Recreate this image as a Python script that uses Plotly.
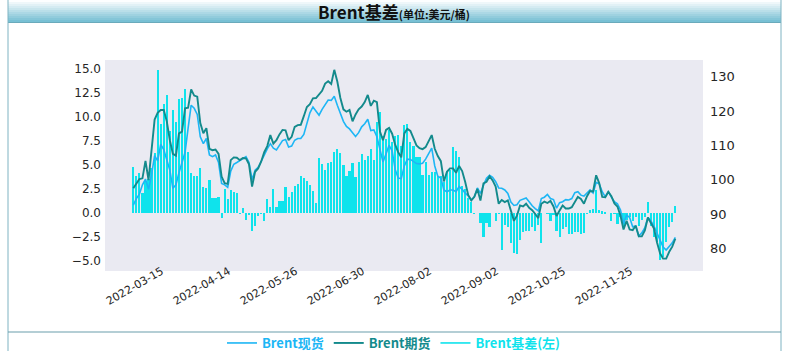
import plotly.graph_objects as go

# ---------------- data ----------------
tick_labels = ["2022-03-15", "2022-04-14", "2022-05-26", "2022-06-30",
               "2022-08-02", "2022-09-02", "2022-10-25", "2022-11-25"]

basis = [4.8, 3.9, 4.2, 2.1, 3.2, 3.5, 4.7, 6.3, 14.9, 9.3, 11.4, 12.3, 8.5, 10.7, 9.5, 11.9, 12.0, 12.9, 6.4, 4.2,
         3.9, 3.9, 4.7, 2.7, 2.6, 3.4, 1.6, 1.6, 1.7,
         -0.5, 2.5, 1.5, 2.4, 2.2, 2.1, -0.1, 0.5, -0.7, -0.2, -1.9, -1.4, -0.3, -0.1, -0.8, 1.5, 0.6, 2.5, 0.6, 1.3,
         1.3, 2.7, 1.7, 2.2, 2.8, 3.0, 3.9, 3.6, 3.3, 2.9,
         2.3, 1.0, 5.7, 5.1, 4.5, 5.2, 5.3, 6.4, 6.7, 6.3, 5.0, 3.9, 4.4, 5.2, 3.8, 5.3, 6.2, 5.5, 5.9, 6.7, 5.5, 9.5,
         10.5, 8.0, 7.7, 8.7, 7.4, 8.0, 8.1,
         7.0, 9.2, 9.3, 7.4, 7.0, 5.8, 5.8, 4.0, 5.3, 4.0, 4.3, 4.3, 3.9, 3.9, 3.2, 4.4, 4.5, 6.9, 6.5, 5.8, 2.8, 2.5,
         1.6, 1.1, -0.1, 0.0, -1.0, -2.5, -1.0, -1.5,
         0.0, -0.8, -0.1, -3.8, -1.2, -1.5, -3.1, -4.2, -4.3, -2.8, -2.0, -1.9, -1.9, -1.5, -1.9, -1.2, -3.1, 0.0, -0.1,
         -0.8, -0.2, -1.9, -2.5, -1.7, -1.5, -2.2, -2.2, -2.0, -2.0, -2.2,
         -2.1, -0.1, 0.3, 0.4, 2.4, 0.3, 0.2, 0.1, 0.0, -0.8, -0.1, -1.1, -0.4, -1.5, -0.7, -0.4, -0.8, -0.4, -1.3,
         -0.7, -0.4, 1.2, -1.4, -2.5, -3.0, -4.9, -4.6, -3.0, -1.5, -0.9, 0.7]

futures = [97.5, 98.8, 100.2, 100.4, 105.5, 99.9, 108.0, 117.5, 119.5, 120.3, 120.3, 117.0, 111.5, 107.5, 107.0,
           113.5, 114.0, 120.8, 121.0, 126.3, 124.5, 124.2, 116.5, 113.5, 115.0, 109.0, 108.6, 108.8, 107.5,
           100.9, 99.0, 98.8, 105.7, 106.5, 106.4, 105.7, 106.3, 106.2, 104.5, 98.0, 102.3, 103.3, 105.3, 108.0,
           109.8, 113.0, 110.5, 111.5, 113.2, 114.5, 114.4, 111.5, 112.5, 115.4, 115.9, 116.0, 118.5, 121.2, 122.0,
           123.7, 123.8, 124.7, 125.9, 128.0, 128.7, 127.9, 132.0, 128.6, 123.8, 120.5, 119.8, 120.3, 117.0, 119.0,
           120.5, 121.3, 122.6, 124.7, 121.5, 123.0, 122.6, 114.0, 111.5, 114.5, 115.1, 113.4, 110.2, 108.0,
           106.5, 113.5, 114.8, 114.2, 111.8, 110.0, 109.2, 108.9, 109.5, 111.1, 113.0, 109.0, 106.9, 105.4, 99.5,
           102.3, 103.3, 103.3, 102.0, 104.0, 102.5, 99.3, 95.5, 94.0, 95.0, 97.3, 93.9, 98.9, 99.4, 101.0,
           99.8, 98.0, 93.0, 94.1, 93.5, 94.0, 90.6, 88.0, 89.5, 92.5, 92.2, 93.0, 91.8, 91.1, 90.0, 88.8, 93.0,
           93.6, 93.2, 93.8, 92.2, 89.4, 91.0, 92.5, 91.6, 91.6, 92.0, 93.7, 95.0, 94.4,
           93.0, 95.2, 96.7, 96.6, 101.3, 99.0, 95.0, 94.9, 96.5, 95.2, 93.1, 92.2, 89.5, 85.5, 88.0, 85.5, 85.3,
           86.6, 83.5, 83.5, 85.2, 89.0, 87.5, 85.8, 81.7, 78.5, 77.0, 77.0, 79.0, 80.5, 82.8]

spot = [92.6, 94.5, 95.8, 98.5, 100.2, 97.2, 101.5, 107.0, 105.5, 110.3, 108.8, 105.7, 102.8, 97.5, 98.5, 102.0,
        104.7, 108.0, 115.0, 121.7, 120.8, 119.0, 112.5, 110.5, 112.0, 107.2, 106.7, 107.2, 105.0,
        98.9, 98.5, 97.8, 102.5, 104.5, 105.0, 105.5, 106.0, 106.7, 105.0, 100.0, 102.8, 103.6, 105.3, 107.3,
        109.0, 110.5, 109.2, 108.7, 110.0, 111.4, 111.7, 109.5, 109.8, 111.5, 112.0, 112.0, 113.2, 116.0, 119.5,
        121.2, 120.0, 118.8, 120.5, 122.0, 123.2, 123.1, 124.3, 121.7, 119.4, 117.0, 115.5, 114.8, 113.7, 112.6,
        113.7, 115.4, 116.3, 117.6, 114.3, 114.5, 112.5, 108.5, 105.2, 107.5, 110.0, 108.4, 103.0, 100.5,
        100.3, 104.0, 106.0, 105.9, 105.2, 104.7, 104.6, 104.8, 106.0, 107.4, 109.2, 104.0, 101.0, 100.5, 97.0,
        96.5, 97.0, 97.0, 96.5, 98.0, 97.2, 96.1, 95.3, 94.0, 95.0, 97.6, 96.0, 98.4, 100.4, 101.3,
        100.7, 99.4, 97.6, 97.5, 97.0, 96.0, 93.5, 92.5, 92.7, 94.0, 94.3, 94.7, 93.6, 92.4, 91.6, 90.9, 94.5,
        94.9, 95.7, 94.5, 94.2, 91.7, 93.3, 93.6, 94.2, 94.1, 94.5, 96.2, 96.5, 95.5,
        95.2, 96.0, 97.0, 96.1, 99.2, 98.8, 96.5, 95.0, 96.5, 94.9, 93.6, 93.0, 91.2, 87.2, 89.7, 89.0, 86.3,
        86.5, 83.6, 84.5, 86.0, 89.0, 88.0, 86.5, 84.3, 82.5, 80.4, 79.5, 80.4, 81.6, 83.2]

n = min(len(basis), len(futures), len(spot))
basis, futures, spot = basis[:n], futures[:n], spot[:n]
idx = list(range(n))
tick_step = 22

# ---------------- styling ----------------
C_SPOT = "#1db6f5"
C_FUT = "#138a8c"
C_BASIS = "#0fe3ec"
W, H = 788, 351
PL, PR, PT, PB = 105, 703, 60, 271


def px2x(px):
    return (px - PL) / (PR - PL)


def py2y(py):
    return (PB - py) / (PB - PT)


fig = go.Figure()
fig.add_trace(go.Bar(x=idx, y=basis, marker=dict(color=C_BASIS, line=dict(width=0)),
                     width=0.72, showlegend=False, yaxis="y", hoverinfo="skip"))
fig.add_trace(go.Scatter(x=idx, y=spot, mode="lines", line=dict(color=C_SPOT, width=1.6),
                         name=f"<b><span style='color:{C_SPOT}'>Brent现货</span></b>",
                         yaxis="y2", legendrank=1))
fig.add_trace(go.Scatter(x=idx, y=futures, mode="lines", line=dict(color=C_FUT, width=1.9),
                         name=f"<b><span style='color:{C_FUT}'>Brent期货</span></b>",
                         yaxis="y2", legendrank=2))
fig.add_trace(go.Scatter(x=[None], y=[None], mode="lines", line=dict(color=C_BASIS, width=1.6),
                         name=f"<b><span style='color:{C_BASIS}'>Brent基差(左)</span></b>",
                         yaxis="y2", legendrank=3))

x_lo = (PL - 133.3) / 3.045
x_hi = (PR - 133.3) / 3.045
label_shift = 9.3
tickvals = [k * tick_step + label_shift for k in range(len(tick_labels))]

shapes = []
# title bar gradient
top_c = (252, 254, 255)
bot_c = (120, 192, 212)
steps = 11
for s in range(steps):
    t = s / (steps - 1)
    c = tuple(int(top_c[j] + (bot_c[j] - top_c[j]) * t) for j in range(3))
    y0 = s * 2
    shapes.append(dict(type="rect", xref="paper", yref="paper",
                       x0=px2x(8), x1=px2x(781), y0=py2y(y0 + 2), y1=py2y(y0),
                       fillcolor="rgb(%d,%d,%d)" % c, line=dict(width=0), layer="below"))
shapes.append(dict(type="line", xref="paper", yref="paper", x0=px2x(8), x1=px2x(781),
                   y0=py2y(22.5), y1=py2y(22.5), line=dict(color="#6aaabb", width=1)))
# frame
for xx in (8, 781):
    shapes.append(dict(type="line", xref="paper", yref="paper", x0=px2x(xx), x1=px2x(xx),
                       y0=py2y(0), y1=py2y(351), line=dict(color="#7fb3c2", width=1)))
shapes.append(dict(type="line", xref="paper", yref="paper", x0=px2x(8), x1=px2x(781),
                   y0=py2y(332), y1=py2y(332), line=dict(color="#6a9eac", width=1.2)))

fig.update_layout(
    width=W, height=H,
    margin=dict(l=PL, r=W - PR, t=PT, b=H - PB, pad=0),
    paper_bgcolor="white", plot_bgcolor="#eaeaf2",
    bargap=0,
    shapes=shapes,
    showlegend=True,
    legend=dict(orientation="h", xref="container", yref="container", x=0.5, y=(351 - 343) / 351,
                xanchor="center", yanchor="middle", itemwidth=30, tracegroupgap=0,
                font=dict(family="Noto Sans CJK SC", size=13), bgcolor="rgba(0,0,0,0)"),
    annotations=[dict(xref="paper", yref="paper", x=px2x(394), y=py2y(11.5), xanchor="center",
                      yanchor="middle", showarrow=False,
                      text="<b>Brent基差</b><b><span style='font-size:11px'>(单位:美元/桶)</span></b>",
                      font=dict(family="Noto Sans CJK SC", size=17, color="#111111"))],
    xaxis=dict(range=[x_lo, x_hi], tickmode="array", tickvals=tickvals, ticktext=tick_labels,
               tickangle=-30, showgrid=False, zeroline=False, showline=False, ticks="",
               ticklabelstandoff=-9,
               tickfont=dict(family="DejaVu Sans", size=11, color="#262626")),
    yaxis=dict(range=[-6.04, 15.94], tickmode="array",
               tickvals=[-5, -2.5, 0, 2.5, 5, 7.5, 10, 12.5, 15], tickformat=".1f",
               showgrid=False, zeroline=False, showline=False, ticks="",
               ticklabelstandoff=3,
               tickfont=dict(family="DejaVu Sans", size=12, color="#262626")),
    yaxis2=dict(range=[73.4, 134.87], overlaying="y", side="right", tickmode="array",
                tickvals=[80, 90, 100, 110, 120, 130],
                showgrid=False, zeroline=False, showline=False, ticks="",
                ticklabelstandoff=6,
                tickfont=dict(family="DejaVu Sans", size=13, color="#262626")),
)

fig.write_html("out.html")
